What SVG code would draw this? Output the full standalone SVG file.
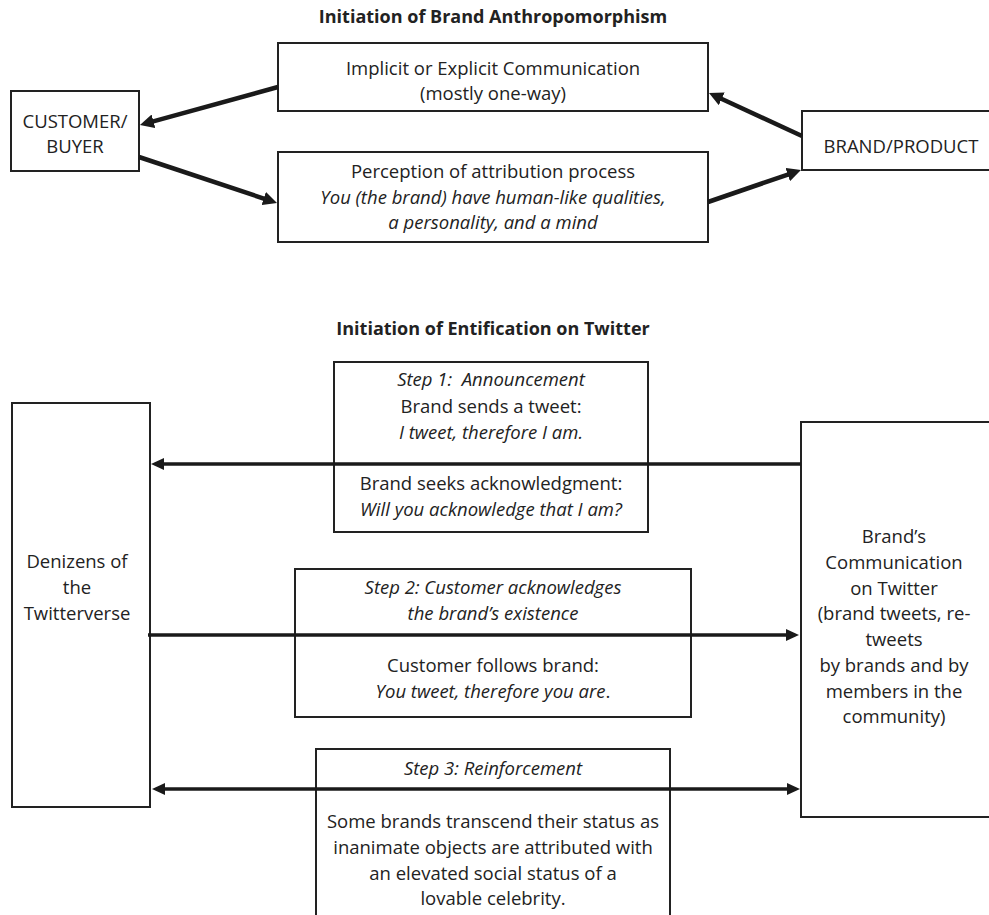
<svg xmlns="http://www.w3.org/2000/svg" width="989" height="915" viewBox="0 0 989 915">
<style>
text{font-family:"Open Sans","Liberation Sans",sans-serif;font-size:18.5px;fill:#222;text-anchor:middle}
.t{font-weight:bold;font-size:18px}
.i{font-style:italic}
.box{fill:#fff;stroke:#222;stroke-width:2}
.a{stroke:#1a1a1a;stroke-width:4.5;fill:none}
.b{stroke:#1a1a1a;stroke-width:3.5;fill:none}
</style>
<defs>
<marker id="ha" viewBox="0 0 14 14" refX="4" refY="7" markerWidth="14" markerHeight="14" markerUnits="userSpaceOnUse" orient="auto"><path d="M0,0 L14,7 L0,14 z" fill="#1a1a1a"/></marker>
<marker id="hb" viewBox="0 0 13 12" refX="3" refY="6" markerWidth="13" markerHeight="12" markerUnits="userSpaceOnUse" orient="auto-start-reverse"><path d="M0,0 L13,6 L0,12 z" fill="#1a1a1a"/></marker>
</defs>
<g id="titles">
<text class="t" x="493" y="23">Initiation of Brand Anthropomorphism</text>
<text class="t" x="493" y="335">Initiation of Entification on Twitter</text>
</g>
<g id="customer">
<rect class="box" x="11" y="91" width="128" height="80"/>
<text x="75" y="128">CUSTOMER/</text>
<text x="75" y="153">BUYER</text>
</g>
<g id="communication">
<rect class="box" x="278" y="43" width="430" height="68"/>
<text x="493" y="75">Implicit or Explicit Communication</text>
<text x="493" y="100">(mostly one-way)</text>
</g>
<g id="perception">
<rect class="box" x="278" y="152" width="430" height="90"/>
<text x="493" y="178">Perception of attribution process</text>
<text class="i" x="493" y="204">You (the brand) have human-like qualities,</text>
<text class="i" x="493" y="229">a personality, and a mind</text>
</g>
<g id="brand">
<rect class="box" x="802" y="111" width="200" height="59"/>
<text x="901" y="153">BRAND/PRODUCT</text>
</g>
<g id="denizens">
<rect class="box" x="12" y="403" width="138" height="404"/>
<text x="77" y="568">Denizens of</text>
<text x="77" y="594">the</text>
<text x="77" y="620">Twitterverse</text>
</g>
<g id="brandcomm">
<rect class="box" x="801" y="422" width="195" height="395"/>
<text x="894" y="543">Brand’s</text>
<text x="894" y="569">Communication</text>
<text x="894" y="595">on Twitter</text>
<text x="894" y="620">(brand tweets, re-</text>
<text x="894" y="646">tweets</text>
<text x="894" y="672">by brands and by</text>
<text x="894" y="698">members in the</text>
<text x="894" y="723">community)</text>
</g>
<g id="step1">
<rect class="box" x="334" y="362" width="314" height="170"/>
<text class="i" x="491" y="386" xml:space="preserve">Step 1:  Announcement</text>
<text x="491" y="413">Brand sends a tweet:</text>
<text class="i" x="491" y="439">I tweet, therefore I am.</text>
<text x="491" y="490">Brand seeks acknowledgment:</text>
<text class="i" x="491" y="516">Will you acknowledge that I am?</text>
</g>
<g id="step2">
<rect class="box" x="295" y="569" width="396" height="148"/>
<text class="i" x="493" y="594">Step 2: Customer acknowledges</text>
<text class="i" x="493" y="620">the brand’s existence</text>
<text x="493" y="672">Customer follows brand:</text>
<text x="493" y="698"><tspan class="i">You tweet, therefore you are</tspan>.</text>
</g>
<g id="step3">
<rect class="box" x="316" y="749" width="354" height="180"/>
<text class="i" x="493" y="775">Step 3: Reinforcement</text>
<text x="493" y="828">Some brands transcend their status as</text>
<text x="493" y="854">inanimate objects are attributed with</text>
<text x="493" y="880">an elevated social status of a</text>
<text x="493" y="905">lovable celebrity.</text>
</g>
<g id="connectors">
<line class="a" x1="278" y1="87" x2="149.6" y2="122.3" marker-end="url(#ha)"/>
<line class="a" x1="139" y1="157" x2="267.5" y2="199.8" marker-end="url(#ha)"/>
<line class="a" x1="708" y1="202" x2="791.5" y2="173.3" marker-end="url(#ha)"/>
<line class="a" x1="802" y1="136" x2="718.1" y2="97.2" marker-end="url(#ha)"/>
<line class="b" x1="801" y1="464" x2="161" y2="464" marker-end="url(#hb)"/>
<line class="b" x1="148" y1="635" x2="789" y2="635" marker-end="url(#hb)"/>
<line class="b" x1="162" y1="789" x2="790" y2="789" marker-start="url(#hb)" marker-end="url(#hb)"/>
</g>
</svg>
